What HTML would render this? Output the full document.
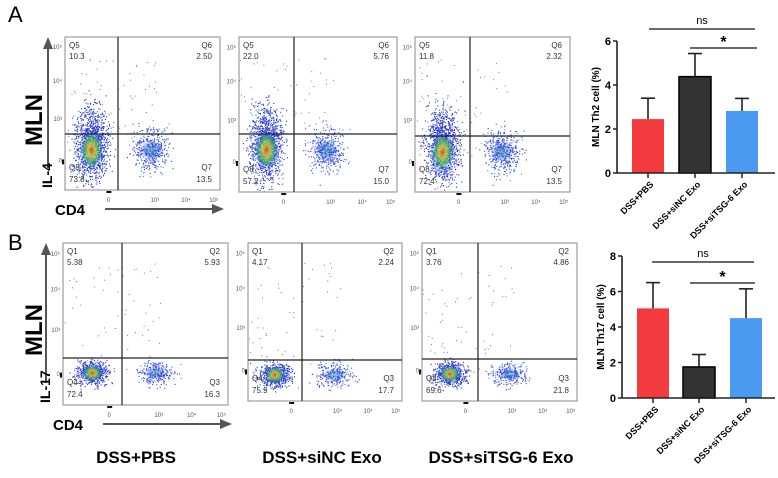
<!DOCTYPE html>
<html><head><meta charset="utf-8">
<style>
body{margin:0;background:#fff;width:778px;height:478px;overflow:hidden;font-family:"Liberation Sans",Arial,sans-serif}
svg{display:block}
</style></head><body>
<svg id="fig" width="778" height="478" viewBox="0 0 778 478" font-family="Liberation Sans, Arial, sans-serif">
<defs id="defs">
<radialGradient id="heat"><stop offset="0" stop-color="#e05020" stop-opacity="0.9"/><stop offset="0.3" stop-color="#e0d030" stop-opacity="0.8"/><stop offset="0.6" stop-color="#40c050" stop-opacity="0.7"/><stop offset="1" stop-color="#2040ff" stop-opacity="0"/></radialGradient>
<radialGradient id="heat2"><stop offset="0" stop-color="#40b080" stop-opacity="0.6"/><stop offset="0.5" stop-color="#1050d0" stop-opacity="0.4"/><stop offset="1" stop-color="#2040ff" stop-opacity="0"/></radialGradient>
</defs>
<text x="8" y="22" font-size="22">A</text>
<text x="8" y="250" font-size="22">B</text>
<text transform="translate(42,120) rotate(-90)" text-anchor="middle" font-size="24" font-weight="bold">MLN</text>
<text transform="translate(42,330) rotate(-90)" text-anchor="middle" font-size="24" font-weight="bold">MLN</text>
<g id="flows"></g>
<text x="136" y="463" text-anchor="middle" font-size="17" font-weight="bold">DSS+PBS</text>
<text x="322" y="463" text-anchor="middle" font-size="17" font-weight="bold">DSS+siNC Exo</text>
<text x="501" y="463" text-anchor="middle" font-size="17" font-weight="bold">DSS+siTSG-6 Exo</text>
<g id="bars"></g>
</svg>
<script>
const NS="http://www.w3.org/2000/svg";
function mk(p,t,a){const e=document.createElementNS(NS,t);for(const k in a)e.setAttribute(k,a[k]);p.appendChild(e);return e;}
// ---- flow plots ----
const flowQuadLabels=[["Q5","Q6","Q8","Q7"],["Q1","Q2","Q4","Q3"]];
const flowValues=[["10.3","2.50","73.8","13.5"],["22.0","5.76","57.2","15.0"],["11.8","2.32","72.4","13.5"],
                  ["5.38","5.93","72.4","16.3"],["4.17","2.24","75.9","17.7"],["3.76","4.86","69.6","21.8"]];
const boxes=[[65,37,220,190,118,134],[239,37,397,192,294,134],[415,37,570,192,470,136],
             [63,243,228,405,122,358],[248,243,402,401,302,360],[422,243,577,401,478,359]];
const flows=document.getElementById('flows');
const defs=document.getElementById('defs');
let seed=7;function rnd(){seed=(seed*16807)%2147483647;return seed/2147483647;}
function gauss(){return (rnd()+rnd()+rnd()+rnd()-2)/1.15;}
boxes.forEach((b,i)=>{
  const row=i<3?0:1;
  const g=mk(flows,'g',{});
  
  
  const [x0,y0,x1,y1,qx,qy]=b;
  const cp=mk(defs,'clipPath',{id:'cp'+i});
  mk(cp,'rect',{x:x0,y:y0,width:x1-x0,height:y1-y0});
  mk(g,'rect',{x:x0,y:y0,width:x1-x0,height:y1-y0,fill:'#fff',stroke:'#888','stroke-width':1});
  const lcx=x0+(qx-x0)*0.5, lcy=row==0?(qy+16):(qy+15);
  const rcx=qx+(x1-qx)*0.32;
  const dots=mk(g,'g',{'clip-path':'url(#cp'+i+')'});
  const n1=row==0?1200:600;
  for(let k=0;k<n1;k++){mk(dots,'rect',{x:lcx+gauss()*(row==0?16:16),y:lcy+gauss()*(row==0?36:12)-(row==0?6:0),width:1.1,height:1.1,fill:k%3?'#1f30c8':'#4a5ae8'});}
  for(let k=0;k<(row==0?400:250);k++){mk(dots,'rect',{x:rcx+gauss()*18,y:lcy+gauss()*(row==0?22:12),width:1.1,height:1.1,fill:k%3?'#2a44e0':'#6070ee'});}
  for(let k=0;k<60;k++){mk(dots,'rect',{x:x0+rnd()*(x1-x0)*0.6,y:y0+20+rnd()*(qy-y0),width:1,height:1,fill:'#6070e0'});}
  mk(dots,'ellipse',{cx:lcx,cy:lcy,rx:row==0?12:11,ry:row==0?20:9,fill:'url(#heat)'});
  mk(dots,'ellipse',{cx:rcx,cy:lcy,rx:12,ry:row==0?11:7,fill:'url(#heat2)'});
  mk(g,'line',{x1:qx,y1:y0,x2:qx,y2:y1,stroke:'#222','stroke-width':1.2});
  mk(g,'line',{x1:x0,y1:qy,x2:x1,y2:qy,stroke:'#222','stroke-width':1.2});
  const q=flowQuadLabels[row],v=flowValues[i];
  const fs={ 'font-size':8,fill:'#333'};
  const t=(x,y,s,anc)=>{const e=mk(g,'text',Object.assign({x:x,y:y,'text-anchor':anc},fs));e.textContent=s;};
  t(x0+4,y0+11,q[0],'start');t(x0+4,y0+22,v[0],'start');
  t(x1-8,y0+11,q[1],'end');t(x1-8,y0+22,v[1],'end');
  t(x0+4,y1-20,q[2],'start');t(x0+4,y1-8,v[2],'start');
  t(x1-8,y1-20,q[3],'end');t(x1-8,y1-8,v[3],'end');
  const tk=[["0",0.28],["10³",0.58],["10⁴",0.78],["10⁵",0.96]];
  tk.forEach(a=>{const e=mk(g,'text',{x:x0+(x1-x0)*a[1],y:y1+12,'font-size':6,fill:'#555','text-anchor':'middle'});e.textContent=a[0];});
  const yk=[["10⁵",0.08],["10⁴",0.3],["10³",0.55],["0",0.82]];
  yk.forEach(a=>{const e=mk(g,'text',{x:x0-3,y:y0+(y1-y0)*a[1],'font-size':6,fill:'#555','text-anchor':'end'});e.textContent=a[0];});
  mk(g,'rect',{x:x0-3,y:y0+(y1-y0)*0.8,width:2,height:5,fill:'#111'});
  mk(g,'rect',{x:x0+(x1-x0)*0.28-2,y:y1+1,width:5,height:2,fill:'#111'});
});
[[65,37,220,190,"IL-4",0],[63,243,228,405,"IL-17",1]].forEach(a=>{
  const [x0,y0,x1,y1,lab,r]=a;const g=mk(flows,'g',{});
  
  
  mk(g,'line',{x1:x0-17,y1:y1-22,x2:x0-17,y2:y0+10,stroke:'#555','stroke-width':2});
  mk(g,'polygon',{points:`${x0-22},${y0+12} ${x0-12},${y0+12} ${x0-17},${y0}`,fill:'#555'});
  mk(g,'line',{x1:x0+40,y1:y1+19,x2:x1-5,y2:y1+19,stroke:'#555','stroke-width':2});
  mk(g,'polygon',{points:`${x1-8},${y1+14} ${x1-8},${y1+24} ${x1+4},${y1+19}`,fill:'#555'});
  const l=mk(g,'text',{transform:`translate(${x0-13},${y1-2}) rotate(-90)`,'font-size':14,'font-weight':'bold'});l.textContent=lab;
  const c=mk(g,'text',{x:x0-10,y:y1+25,'font-size':15,'font-weight':'bold'});c.textContent="CD4";
});
// ---- bar charts ----
const barCategories=["DSS+PBS","DSS+siNC Exo","DSS+siTSG-6 Exo"];
const th2Values=[2.45,4.38,2.82];
const th2Errors=[0.95,1.05,0.57];
const th17Values=[5.05,1.75,4.5];
const th17Errors=[1.45,0.7,1.65];
const th2Ticks=[0,2,4,6];
const th17Ticks=[0,2,4,6,8];
const barColors=["#f23a3f","#333333","#4b9af2"];
const charts=[
 {name:'th2',vals:th2Values,errs:th2Errors,ticks:th2Ticks,max:6,ax:617,x1:775,y0:173,yTop:41,label:"MLN Th2 cell (%)",cx:[648,695,742],ns:29,star:48,nsX:[649,755],stX:[690,757]},
 {name:'th17',vals:th17Values,errs:th17Errors,ticks:th17Ticks,max:8,ax:622,x1:775,y0:398,yTop:256,label:"MLN Th17 cell (%)",cx:[653,699,746],ns:262,star:283,nsX:[652,754],stX:[690,755]}
];
const bars=document.getElementById('bars');
charts.forEach(c=>{
  const g=mk(bars,'g',{});
  
  
  const ys=v=>c.y0-(v/c.max)*(c.y0-c.yTop);
  c.vals.forEach((v,i)=>{
    const x=c.cx[i],w=32;
    const eb=mk(g,'line',{x1:x,x2:x,y1:ys(v),y2:ys(v+c.errs[i]),stroke:'#222','stroke-width':1.6});
    
    
    mk(g,'line',{x1:x-7,x2:x+7,y1:ys(v+c.errs[i]),y2:ys(v+c.errs[i]),stroke:'#222','stroke-width':1.6});
    const r=mk(g,'rect',{x:x-w/2,y:ys(v),width:w,height:c.y0-ys(v),fill:barColors[i],stroke:i==1?'#000':'none','stroke-width':1.5});
    
    
    mk(g,'line',{x1:x,x2:x,y1:c.y0,y2:c.y0+5,stroke:'#222','stroke-width':1.5});
    const t=mk(g,'text',{transform:`translate(${x+6},${c.y0+12}) rotate(-45)`,'text-anchor':'end','font-size':9,'font-weight':'bold'});
    t.textContent=barCategories[i];
  });
  mk(g,'line',{x1:c.ax,x2:c.ax,y1:c.yTop,y2:c.y0,stroke:'#222','stroke-width':1.6});
  mk(g,'line',{x1:c.ax,x2:c.x1,y1:c.y0,y2:c.y0,stroke:'#222','stroke-width':1.6});
  c.ticks.forEach(v=>{
    mk(g,'line',{x1:c.ax-4,x2:c.ax,y1:ys(v),y2:ys(v),stroke:'#222','stroke-width':1.5});
    const t=mk(g,'text',{x:c.ax-6,y:ys(v)+4,'text-anchor':'end','font-size':11,'font-weight':'bold'});t.textContent=v;
  });
  const yl=mk(g,'text',{transform:`translate(${c.ax-18},${(c.y0+c.yTop)/2}) rotate(-90)`,'text-anchor':'middle','font-size':10,'font-weight':'bold'});
  yl.textContent=c.label;
  mk(g,'line',{x1:c.nsX[0],x2:c.nsX[1],y1:c.ns,y2:c.ns,stroke:'#111','stroke-width':1.3});
  mk(g,'line',{x1:c.stX[0],x2:c.stX[1],y1:c.star,y2:c.star,stroke:'#111','stroke-width':1.3});
  const ns=mk(g,'text',{x:(c.nsX[0]+c.nsX[1])/2,y:c.ns-5,'text-anchor':'middle','font-size':11});ns.textContent="ns";
  const st=mk(g,'text',{x:(c.stX[0]+c.stX[1])/2,y:c.star-1,'text-anchor':'middle','font-size':16,'font-weight':'bold'});st.textContent="*";
});
</script>
</body></html>
